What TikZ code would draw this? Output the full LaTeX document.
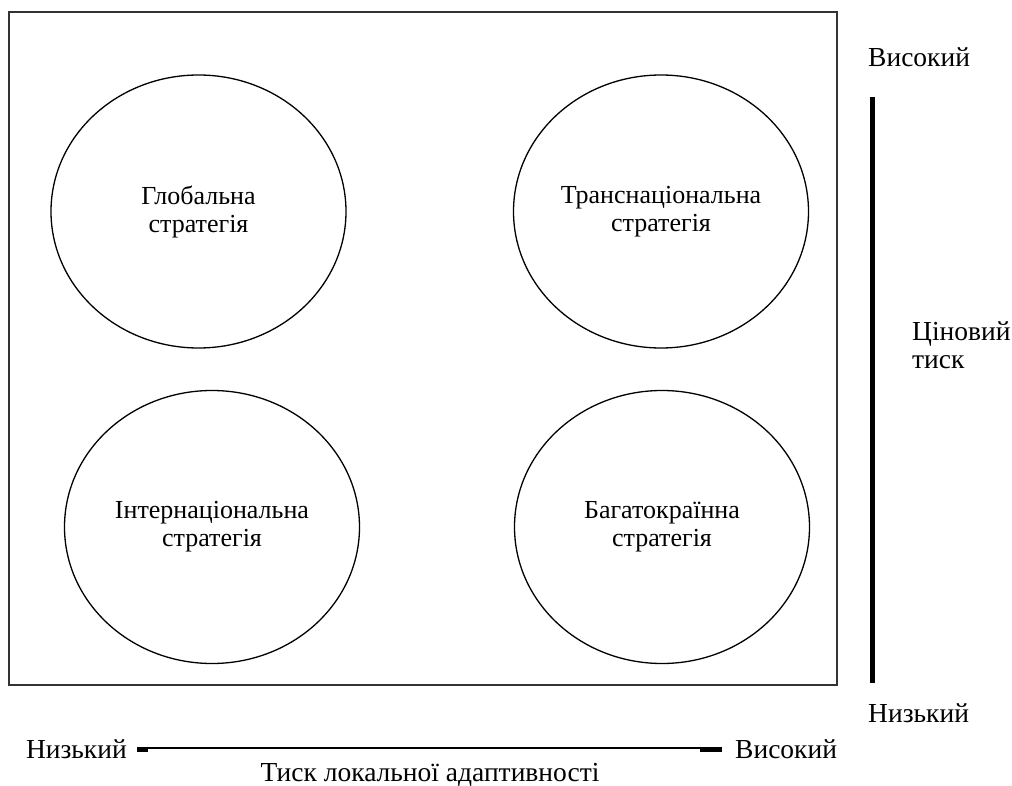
\documentclass[tikz,border=0pt]{standalone}
\usepackage{fontspec}
\setmainfont{Liberation Serif}
\usetikzlibrary{shapes.geometric}

\begin{document}
\begin{tikzpicture}[x=1pt,y=-1pt,
  txt/.style={inner sep=0pt,font=\fontsize{27.5}{28}\selectfont},
  strat/.style={draw,ellipse,line width=1.3pt,align=center,inner sep=0pt,
    font=\fontsize{26}{28}\selectfont,minimum width=295pt,minimum height=273pt}]
\useasboundingbox (0,0) rectangle (1012,786);
\draw[line width=2pt,black!80] (9,12) rectangle (837,685);

\node[strat] (glob) at (198.5,211.5) {Глобальна\\стратегія};
\node[strat] (trans) at (661,211.5) {Транснаціональна\\стратегія};
\node[strat] (inter) at (212,527) {Інтернаціональна\\стратегія};
\node[strat] (multi) at (662,527) {Багатокраїнна\\стратегія};

\node[txt,anchor=base west] (yhigh) at (868,67) {Високий};
\node[txt,anchor=base west] (ylow) at (868,722) {Низький};
\node[txt,anchor=north west,align=left] (ylab) at (912,321) {Ціновий\\тиск};
\coordinate (ytop) at (872,97);
\coordinate (ybot) at (872,683);
\draw[line width=5pt] (ytop) -- (ybot);

\node[txt,anchor=base east] (xlow) at (127,758) {Низький};
\node[txt,anchor=base west] (xhigh) at (735,758) {Високий};
\node[txt,anchor=base] (xlab) at (430,781) {Тиск локальної адаптивності};
\coordinate (xleft) at (137,748);
\coordinate (xright) at (722,748);
\draw[line width=2pt] (xleft) -- (xright);
\draw[line width=4.5pt] ([yshift=-1.3]xleft) -- +(11,0);
\draw[line width=4.5pt] ([yshift=-1.3]xright) -- +(-22,0);
\end{tikzpicture}
\end{document}
